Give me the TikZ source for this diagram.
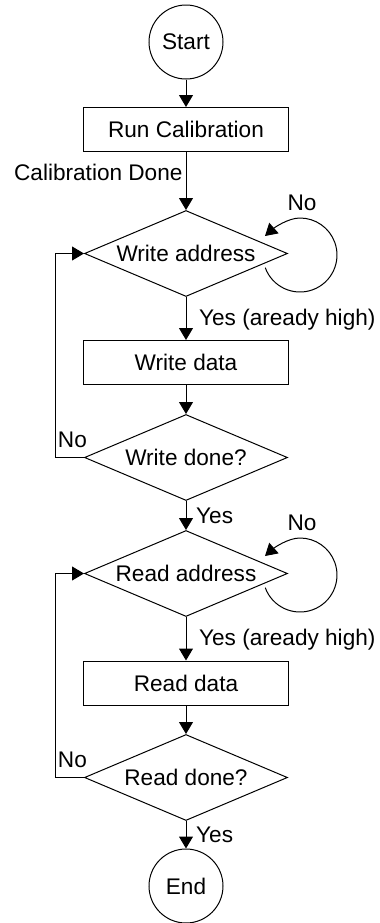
\documentclass[tikz,border=0pt]{standalone}
\usepackage{fontspec}
\setmainfont{Liberation Sans}
\usetikzlibrary{arrows.meta}
\usetikzlibrary{shapes.geometric}
\usetikzlibrary{positioning}
\tikzset{flow/.style = {-{Triangle[width=7pt, length=6pt]}},
         terminal/.style = {draw, circle, minimum size=37pt, inner sep=0pt},
         process/.style = {draw, rectangle, minimum width=102.5pt, minimum height=22pt},
         decision/.style = {draw, diamond, aspect=2.4, minimum width=101.5pt, minimum height=43pt, inner sep=0pt}}

\begin{document}
\begin{tikzpicture}[x=0.5pt, y=0.5pt, line width=0.5pt,
                    every node/.style={font=\fontsize{11.3pt}{13.5pt}\selectfont}]
     \useasboundingbox (0, 0) rectangle (380, -923);
     \node [terminal] (start) at (186, -42) {Start};
     \node [process] (calib) at (186, -129.5) {Run Calibration};
     \node [decision] (waddr) at (186, -253.5) {Write address};
     \node [process] (wdata) at (186, -362.5) {Write data};
     \node [decision] (wdone) at (186, -457.5) {Write done?};
     \node [decision] (raddr) at (186, -573.5) {Read address};
     \node [process] (rdata) at (186, -683) {Read data};
     \node [decision] (rdone) at (186, -777.5) {Read done?};
     \node [terminal] (end) at (186, -886) {End};
     % main flow
     \draw [flow] (start) -- (calib);
     \draw [flow] (calib) -- (waddr) node [pos=0.35, left, inner sep=1.5pt] (caldone) {Calibration Done};
     \draw [flow] (waddr) -- (wdata) node [pos=0.53, right=3pt] (wyes) {Yes (aready high)};
     \draw [flow] (wdata) -- (wdone);
     \draw [flow] (wdone) -- (raddr) node [midway, right=1.5pt] (wdoneyes) {Yes};
     \draw [flow] (raddr) -- (rdata) node [pos=0.53, right=3pt] (ryes) {Yes (aready high)};
     \draw [flow] (rdata) -- (rdone);
     \draw [flow] (rdone) -- (end) node [midway, right=1.5pt] (rdoneyes) {Yes};
     % retry loops
     \coordinate (wloop) at ([shift={(114, -1.5)}] waddr.center);
     \draw [flow] (wloop) ++(200:37) arc [start angle=200, end angle=450, radius=37]
          .. controls +(-12, 0) and +(9, 8) .. ([shift={(-35, 19)}] wloop);
     \node (waddrno) at ([shift={(2, 52)}] wloop) {No};
     \coordinate (rloop) at ([shift={(114, -1.5)}] raddr.center);
     \draw [flow] (rloop) ++(200:37) arc [start angle=200, end angle=450, radius=37]
          .. controls +(-12, 0) and +(9, 8) .. ([shift={(-35, 19)}] rloop);
     \node (raddrno) at ([shift={(2, 52)}] rloop) {No};
     \draw [flow] (wdone.west) -- ++(-29, 0) node [pos=0.4, above=1.5pt] (wdoneno) {No} |- (waddr.west);
     \draw [flow] (rdone.west) -- ++(-29, 0) node [pos=0.4, above=1.5pt] (rdoneno) {No} |- (raddr.west);
    \end{tikzpicture}
\end{document}
